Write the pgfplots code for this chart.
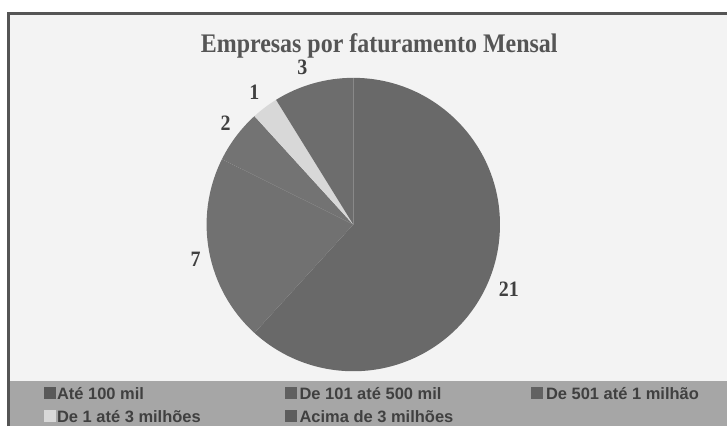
\documentclass[border=0pt]{standalone}
\usepackage{pgfplots}
\pgfplotsset{compat=1.18}
\usepackage{pgfplotstable}
\usepackage{graphicx}
\usepackage{fontspec}
\setmainfont{Liberation Serif}
\newfontfamily\arialf{Liberation Sans}

\definecolor{bgc}{HTML}{F3F3F3}
\definecolor{bandc}{HTML}{A6A6A6}
\definecolor{framec}{HTML}{555555}
\definecolor{cA}{HTML}{696969}
\definecolor{cB}{HTML}{717171}
\definecolor{cC}{HTML}{737373}
\definecolor{cD}{HTML}{D8D8D8}
\definecolor{cE}{HTML}{6D6D6D}
\definecolor{txt}{HTML}{404040}

\pgfplotstableread{
value
21
7
2
1
3
}\pietable

\pgfplotstablegetelem{0}{value}\of\pietable \let\vA\pgfplotsretval
\pgfplotstablegetelem{1}{value}\of\pietable \let\vB\pgfplotsretval
\pgfplotstablegetelem{2}{value}\of\pietable \let\vC\pgfplotsretval
\pgfplotstablegetelem{3}{value}\of\pietable \let\vD\pgfplotsretval
\pgfplotstablegetelem{4}{value}\of\pietable \let\vE\pgfplotsretval
\pgfmathsetmacro\tot{\vA+\vB+\vC+\vD+\vE}
\pgfmathsetmacro\aA{90-360*\vA/\tot}
\pgfmathsetmacro\aB{\aA-360*\vB/\tot}
\pgfmathsetmacro\aC{\aB-360*\vC/\tot}
\pgfmathsetmacro\aD{\aC-360*\vD/\tot}
\pgfmathsetmacro\aE{\aD-360*\vE/\tot}

\begin{document}
\begin{tikzpicture}
\begin{axis}[
  width=728bp, height=427bp, scale only axis,
  xmin=0, xmax=728, ymin=0, ymax=427,
  hide axis, clip=false,
]
% background
\fill[white] (axis cs:0,0) rectangle (axis cs:728,427);
\fill[bgc] (axis cs:9,0) rectangle (axis cs:728,413);
\fill[bandc] (axis cs:9,0) rectangle (axis cs:728,45);
\draw[framec, line width=3bp] (axis cs:9,0) -- (axis cs:9,413) -- (axis cs:728,413);

% pie slices
\fill[cA] (axis cs:354,202) -- +(90:147bp) arc[start angle=90, end angle=\aA, radius=147bp] -- cycle;
\fill[cB] (axis cs:354,202) -- +(\aA:147bp) arc[start angle=\aA, end angle=\aB, radius=147bp] -- cycle;
\fill[cC] (axis cs:354,202) -- +(\aB:147bp) arc[start angle=\aB, end angle=\aC, radius=147bp] -- cycle;
\fill[cD] (axis cs:354,202) -- +(\aC:147bp) arc[start angle=\aC, end angle=\aD, radius=147bp] -- cycle;
\fill[cE] (axis cs:354,202) -- +(\aD:147bp) arc[start angle=\aD, end angle=\aE, radius=147bp] -- cycle;

% title
\node[anchor=base, inner sep=0pt, font=\fontsize{24bp}{26bp}\selectfont\bfseries, text=framec] at (axis cs:380,374) {\scalebox{1}[1.12]{Empresas por faturamento Mensal}};

% slice labels
\begin{scope}[every node/.style={inner sep=0pt, font=\fontsize{20bp}{22bp}\selectfont\bfseries, text=txt}]
\node at (axis cs:510,137) {\scalebox{1}[1.1]{21}};
\node at (axis cs:196,167) {\scalebox{1}[1.1]{7}};
\node at (axis cs:226,304) {\scalebox{1}[1.1]{2}};
\node at (axis cs:255,335) {\scalebox{1}[1.1]{1}};
\node at (axis cs:303,360) {\scalebox{1}[1.1]{3}};
\end{scope}

% legend
\begin{scope}[every node/.style={anchor=west, inner sep=0pt, font=\arialf\fontsize{16.5bp}{18bp}\selectfont\bfseries, text=txt}]
\fill[cA!85!black] (axis cs:44,27) rectangle (axis cs:56,39);
\node at (axis cs:57,33) {Até 100 mil};
\fill[cB!85!black] (axis cs:286,27) rectangle (axis cs:298,39);
\node at (axis cs:300,33) {De 101 até 500 mil};
\fill[cC!85!black] (axis cs:532,27) rectangle (axis cs:544,39);
\node at (axis cs:547,33) {De 501 até 1 milhão};
\fill[cD] (axis cs:44,4) rectangle (axis cs:56,16);
\node at (axis cs:57,10) {De 1 até 3 milhões};
\fill[cE!85!black] (axis cs:286,4) rectangle (axis cs:298,16);
\node at (axis cs:300,10) {Acima de 3 milhões};
\end{scope}
\end{axis}
\end{tikzpicture}
\end{document}
